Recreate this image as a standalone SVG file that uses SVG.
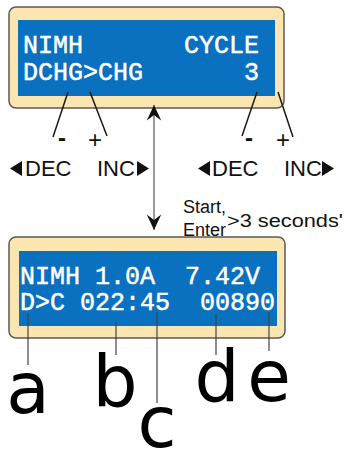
<svg xmlns="http://www.w3.org/2000/svg" width="344" height="452" viewBox="0 0 344 452">
<style>
.frame{fill:#fbe5b1;stroke:#5a5a5a;stroke-width:1.5}
.lcd{fill:#0a70c0}
.lcdt{font-family:"Liberation Mono",monospace;font-size:25px;fill:#ffffff;stroke:#ffffff;stroke-width:0.5}
.lbl{font-family:"Liberation Sans",Arial,sans-serif;fill:#111111}
.big{font-family:"DejaVu Sans",sans-serif;font-size:71px;fill:#000000;text-anchor:middle}
.lead{stroke:#1a1a1a;stroke-width:1.5;fill:none}
.thin{stroke:#444444;stroke-width:1.2;fill:none}
.tri{fill:#111111}
</style>
<defs>
<marker id="ah" markerUnits="userSpaceOnUse" markerWidth="20" markerHeight="20" viewBox="-16 -8 18 16" refX="0" refY="0" orient="auto-start-reverse">
<path d="M0,0 L-14,-6.5 L-9,0 L-14,6.5 z" fill="#111111"/>
</marker>
</defs>

<g id="panel-top">
<rect class="frame" x="9" y="7" width="275" height="101" rx="7"/>
<rect class="lcd" x="18" y="20" width="257" height="76"/>
<text class="lcdt" x="23" y="53">NIMH</text>
<text class="lcdt" x="23" y="80">DCHG&gt;CHG</text>
<text class="lcdt" x="259" y="53" text-anchor="end">CYCLE</text>
<text class="lcdt" x="259" y="80" text-anchor="end">3</text>
</g>

<g id="panel-bottom">
<rect class="frame" x="9" y="237" width="276" height="101" rx="7"/>
<rect class="lcd" x="19" y="251" width="258" height="75"/>
<text class="lcdt" x="20" y="284" xml:space="preserve">NIMH 1.0A  7.42V</text>
<text class="lcdt" x="20" y="310" xml:space="preserve">D&gt;C 022:45  00890</text>
</g>

<g id="keys-left">
<text class="lbl" x="58" y="146" font-size="24" font-weight="bold">-</text>
<text class="lbl" x="88" y="148" font-size="24">+</text>
<polygon class="tri" points="10,168.5 22,161 22,176"/>
<text class="lbl" x="25" y="176" font-size="22">DEC</text>
<text class="lbl" x="97" y="176" font-size="22">INC</text>
<polygon class="tri" points="137,161 137,176 149,168.5"/>
</g>

<g id="keys-right">
<text class="lbl" x="245" y="146" font-size="24" font-weight="bold">-</text>
<text class="lbl" x="276" y="148" font-size="24">+</text>
<polygon class="tri" points="198,168.5 210,161 210,176"/>
<text class="lbl" x="212" y="176" font-size="22">DEC</text>
<text class="lbl" x="284" y="176" font-size="22">INC</text>
<polygon class="tri" points="322,161 322,176 334,168.5"/>
</g>

<g id="start-note">
<text class="lbl" x="183" y="213" font-size="18">Start,</text>
<text class="lbl" x="183" y="236" font-size="18">Enter</text>
<text class="lbl" x="227" y="227" font-size="18" textLength="116" lengthAdjust="spacingAndGlyphs">&gt;3 seconds'</text>
</g>

<g id="field-labels">
<text class="big" x="28" y="413">a</text>
<text class="big" x="115" y="406">b</text>
<text class="big" x="157" y="447">c</text>
<text class="big" x="217" y="401">d</text>
<text class="big" x="269" y="401">e</text>
</g>

<g id="connectors">
<line class="lead" x1="68" y1="92" x2="53" y2="137"/>
<line class="lead" x1="90" y1="92" x2="107" y2="136"/>
<line class="lead" x1="257" y1="92" x2="242" y2="136"/>
<line class="lead" x1="278" y1="92" x2="293" y2="137"/>
<line x1="154" y1="105" x2="154" y2="230" stroke="#9a9a9a" stroke-width="2" marker-start="url(#ah)" marker-end="url(#ah)"/>
<line class="thin" x1="28" y1="313" x2="28" y2="365"/>
<line class="thin" x1="116" y1="322" x2="116" y2="355"/>
<line class="thin" x1="157" y1="312" x2="157" y2="403"/>
<line class="thin" x1="216" y1="314" x2="216" y2="355"/>
<line class="thin" x1="269" y1="312" x2="269" y2="351"/>
</g>
</svg>
